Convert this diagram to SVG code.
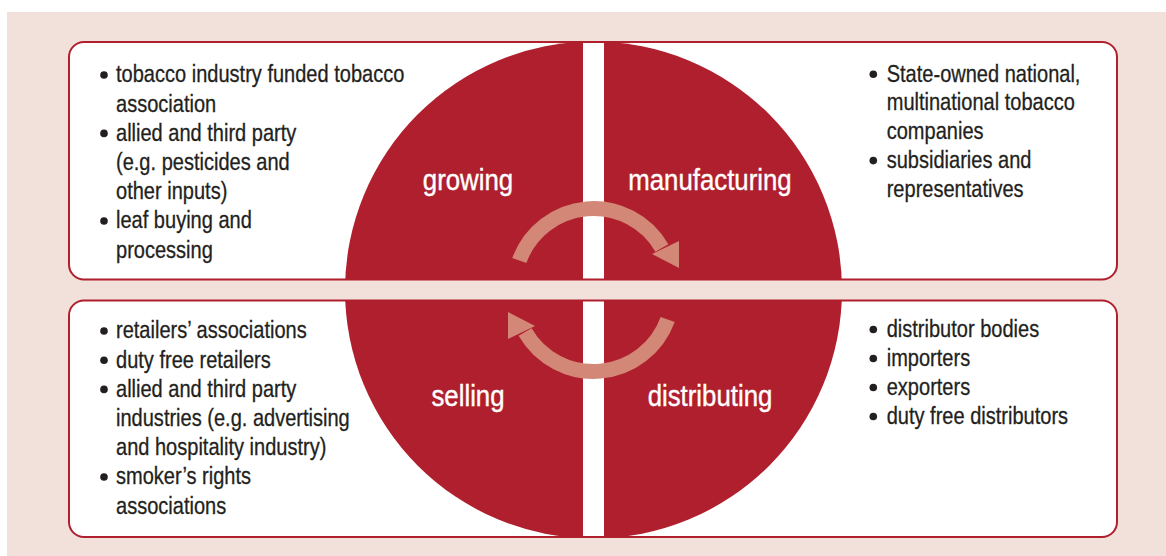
<svg xmlns="http://www.w3.org/2000/svg" width="1166" height="556" viewBox="0 0 1166 556">
  <style>
    .body { font-family: "Liberation Sans", Arial, sans-serif; font-size: 24px; fill: #231f20; stroke: #231f20; stroke-width: 0.3; }
    .stage { font-family: "Liberation Sans", Arial, sans-serif; font-size: 30px; fill: #ffffff; stroke: #ffffff; stroke-width: 0.4; text-anchor: middle; }
    .box { fill: none; stroke: #b01f2e; stroke-width: 2; }
    .bullet { fill: #231f20; }
    .cycle { fill: none; stroke: #d38777; stroke-width: 15; }
    .head { fill: #d38777; }
  </style>
  <defs>
    <clipPath id="boxes">
      <rect x="69" y="42" width="1048" height="237.5" rx="15"/>
      <rect x="69" y="300.5" width="1048" height="236.5" rx="15"/>
    </clipPath>
  </defs>

  <!-- page background -->
  <rect x="7" y="12" width="1159" height="544" fill="#f2e0da"/>

  <!-- white panel fills -->
  <rect x="69" y="42" width="1048" height="237.5" rx="15" fill="#ffffff"/>
  <rect x="69" y="300.5" width="1048" height="236.5" rx="15" fill="#ffffff"/>

  <!-- supply-chain wheel, split into four stages -->
  <g id="wheel" clip-path="url(#boxes)">
    <circle cx="593.5" cy="290" r="248.5" fill="#b01f2e"/>
    <rect x="583" y="30" width="21" height="520" fill="#ffffff"/>
  </g>

  <!-- panel outlines -->
  <rect class="box" x="69" y="42" width="1048" height="237.5" rx="15"/>
  <rect class="box" x="69" y="300.5" width="1048" height="236.5" rx="15"/>

  <!-- stage labels -->
  <g id="growing"><text class="stage" transform="translate(468 190) scale(0.86 1)">growing</text></g>
  <g id="manufacturing"><text class="stage" transform="translate(710 190) scale(0.86 1)">manufacturing</text></g>
  <g id="selling"><text class="stage" transform="translate(468 406) scale(0.86 1)">selling</text></g>
  <g id="distributing"><text class="stage" transform="translate(710 406) scale(0.86 1)">distributing</text></g>

  <!-- cycle arrows -->
  <g id="connectors">
    <g id="arrow-top">
      <path class="cycle" d="M519.3 260.5 A79 79 0 0 1 661.9 248"/>
      <polygon class="head" points="652,254 679,241 679,268"/>
    </g>
    <g id="arrow-bottom" transform="rotate(180 593.5 290)">
      <path class="cycle" d="M519.3 260.5 A79 79 0 0 1 661.9 248"/>
      <polygon class="head" points="652,254 679,241 679,268"/>
    </g>
  </g>

  <!-- growing stakeholders -->
  <g id="list-growing">
    <circle class="bullet" cx="104" cy="75" r="3.8"/>
    <circle class="bullet" cx="104" cy="133.4" r="3.8"/>
    <circle class="bullet" cx="104" cy="221" r="3.8"/>
    <g transform="translate(116 0) scale(0.835 1)">
      <text class="body" x="0" y="82.5">tobacco industry funded tobacco</text>
      <text class="body" x="0" y="111.7">association</text>
      <text class="body" x="0" y="140.9">allied and third party</text>
      <text class="body" x="0" y="170.1">(e.g. pesticides and</text>
      <text class="body" x="0" y="199.3">other inputs)</text>
      <text class="body" x="0" y="228.5">leaf buying and</text>
      <text class="body" x="0" y="257.7">processing</text>
    </g>
  </g>

  <!-- manufacturing stakeholders -->
  <g id="list-manufacturing">
    <circle class="bullet" cx="873.3" cy="74.2" r="3.8"/>
    <circle class="bullet" cx="873.3" cy="160.6" r="3.8"/>
    <g transform="translate(886.7 0) scale(0.835 1)">
      <text class="body" x="0" y="81.7">State-owned national,</text>
      <text class="body" x="0" y="110.5">multinational tobacco</text>
      <text class="body" x="0" y="139.3">companies</text>
      <text class="body" x="0" y="168.1">subsidiaries and</text>
      <text class="body" x="0" y="196.9">representatives</text>
    </g>
  </g>

  <!-- selling stakeholders -->
  <g id="list-selling">
    <circle class="bullet" cx="104" cy="331" r="3.8"/>
    <circle class="bullet" cx="104" cy="360.2" r="3.8"/>
    <circle class="bullet" cx="104" cy="389.4" r="3.8"/>
    <circle class="bullet" cx="104" cy="477" r="3.8"/>
    <g transform="translate(116 0) scale(0.835 1)">
      <text class="body" x="0" y="338.5">retailers’ associations</text>
      <text class="body" x="0" y="367.7">duty free retailers</text>
      <text class="body" x="0" y="396.9">allied and third party</text>
      <text class="body" x="0" y="426.1">industries (e.g. advertising</text>
      <text class="body" x="0" y="455.3">and hospitality industry)</text>
      <text class="body" x="0" y="484.5">smoker’s rights</text>
      <text class="body" x="0" y="513.7">associations</text>
    </g>
  </g>

  <!-- distributing stakeholders -->
  <g id="list-distributing">
    <circle class="bullet" cx="873.3" cy="329.5" r="3.8"/>
    <circle class="bullet" cx="873.3" cy="358.5" r="3.8"/>
    <circle class="bullet" cx="873.3" cy="387.5" r="3.8"/>
    <circle class="bullet" cx="873.3" cy="416.5" r="3.8"/>
    <g transform="translate(886.7 0) scale(0.835 1)">
      <text class="body" x="0" y="337">distributor bodies</text>
      <text class="body" x="0" y="366">importers</text>
      <text class="body" x="0" y="395">exporters</text>
      <text class="body" x="0" y="424">duty free distributors</text>
    </g>
  </g>
</svg>
